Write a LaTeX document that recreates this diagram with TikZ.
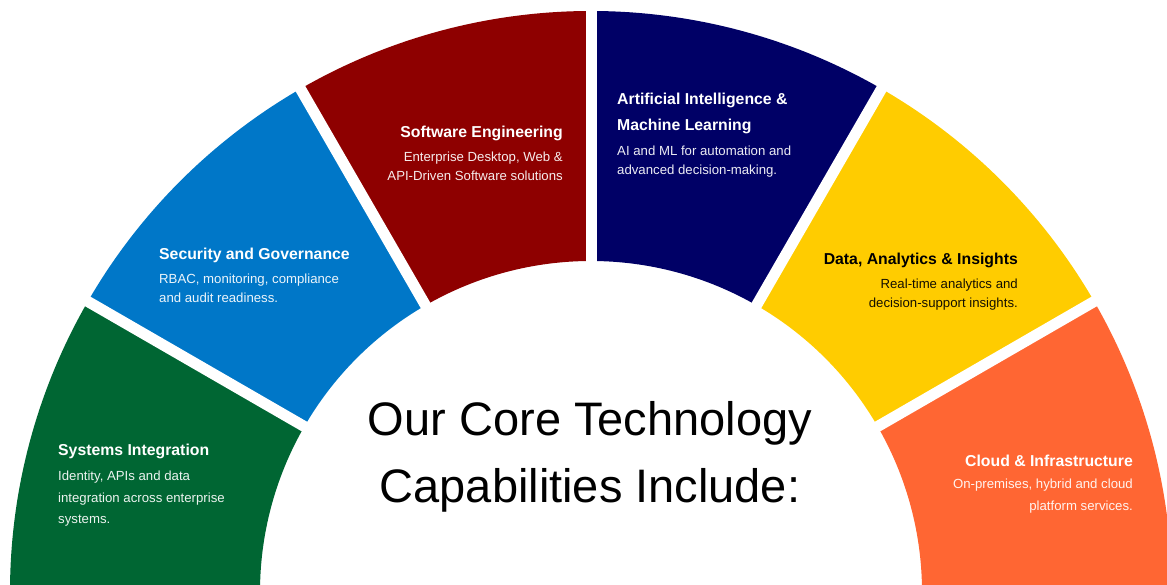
\documentclass[tikz,border=0pt]{standalone}
\usepackage{fontspec}
\setmainfont{Liberation Sans}
\usepackage{tikz}

\definecolor{sysgreen}{HTML}{006633}
\definecolor{secblue}{HTML}{0077C8}
\definecolor{swred}{HTML}{8E0000}
\definecolor{ainavy}{HTML}{000066}
\definecolor{datayellow}{HTML}{FFCC00}
\definecolor{cloudorange}{HTML}{FF6633}

\begin{document}
\begin{tikzpicture}[x=1pt, y=1pt,
  head/.style={inner sep=0pt, text=white, font=\fontsize{15.8}{26}\selectfont\bfseries},
  body/.style={inner sep=0pt, text=white, text opacity=0.92},
  gap/.style={white, line width=11pt}]
\useasboundingbox (0,0) rectangle (1167,585);

\begin{scope}
\clip (0,0) rectangle (1167,585);
\begin{scope}[shift={(591,-7)}]
\foreach \a/\b/\c in {-10/30/cloudorange, 30/60/datayellow, 60/90/ainavy,
                      90/120/swred, 120/150/secblue, 150/190/sysgreen}
  \fill[\c] (\a:331pt) arc[start angle=\a, end angle=\b, radius=331pt]
    -- (\b:581pt) arc[start angle=\b, end angle=\a, radius=581pt] -- cycle;
\foreach \a in {30,60,...,150}
  \draw[gap] (\a:320pt) -- (\a:595pt);
\end{scope}
\end{scope}

% last-line baselines are used as anchors
\node[head, anchor=base west] (sysHead) at (58,129.5) {Systems Integration};
\node[body, anchor=base west, align=left, font=\fontsize{13.2}{21.5}\selectfont] (sysText) at (58,61)
  {Identity, APIs and data\\integration across enterprise\\systems.};

\node[head, anchor=base west] (secHead) at (159,325) {Security and Governance};
\node[body, anchor=base west, align=left, font=\fontsize{13.2}{19}\selectfont] (secText) at (159,282)
  {RBAC, monitoring, compliance\\and audit readiness.};

\node[head, anchor=base east] (swHead) at (563,447) {Software Engineering};
\node[body, anchor=base east, align=right, font=\fontsize{13.2}{19}\selectfont] (swText) at (563,404)
  {Enterprise Desktop, Web \&\\API-Driven Software solutions};

\node[head, anchor=base west, align=left] (aiHead) at (617,454)
  {Artificial Intelligence \&\\Machine Learning};
\node[body, anchor=base west, align=left, font=\fontsize{13.2}{19}\selectfont] (aiText) at (617,410)
  {AI and ML for automation and\\advanced decision-making.};

\node[head, anchor=base east, text=black] (dataHead) at (1018,320) {Data, Analytics \& Insights};
\node[body, anchor=base east, align=right, text=black, font=\fontsize{13.2}{18.5}\selectfont] (dataText) at (1018,277.5)
  {Real-time analytics and\\decision-support insights.};

\node[head, anchor=base east] (cloudHead) at (1133,118) {Cloud \& Infrastructure};
\node[body, anchor=base east, align=right, font=\fontsize{13.2}{22}\selectfont] (cloudText) at (1133,74)
  {On-premises, hybrid and cloud\\platform services.};

\node[anchor=base, align=center, inner sep=0pt, font=\fontsize{47}{67}\selectfont] (title) at (590,82)
  {Our Core Technology\\Capabilities Include:};
\end{tikzpicture}
\end{document}
